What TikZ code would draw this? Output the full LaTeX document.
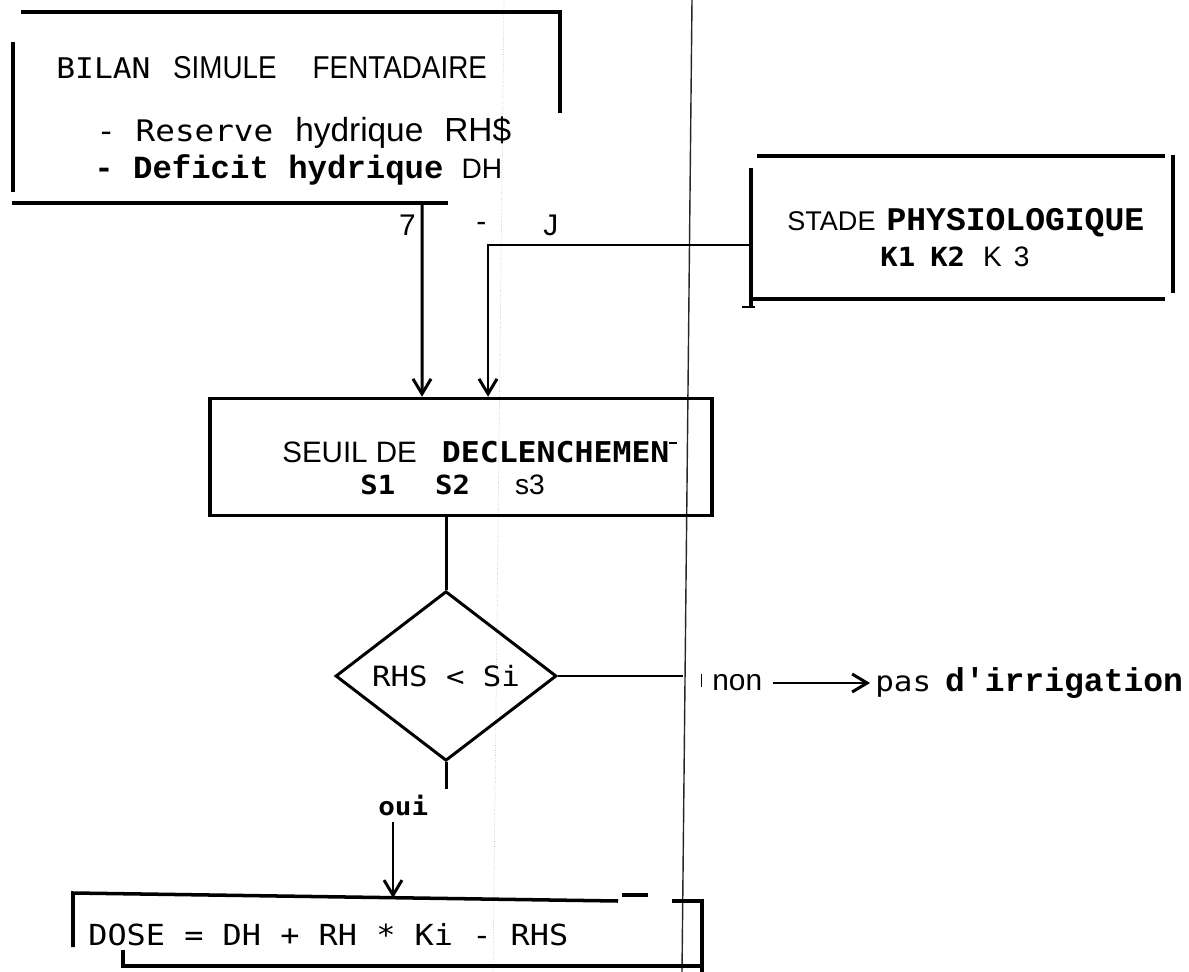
\documentclass[tikz,border=0pt]{standalone}
\usepackage{fontspec}
\setmainfont{Liberation Sans}
\newfontfamily\dotf[FakeStretch=1.1]{DejaVu Sans Mono}
\newfontfamily\narrowf[FakeStretch=0.88]{Liberation Sans}
\newfontfamily\typef{Liberation Mono}
\newcommand\fsz[1]{\fontsize{#1}{#1}\selectfont}
\usetikzlibrary{shapes.geometric,arrows.meta}

\begin{document}
\begin{tikzpicture}[x=0.02cm, y=-0.02cm, >={Straight Barb[length=3mm,width=3.6mm]},
  frame/.style={line width=2pt},
  link/.style={line width=1.7pt},
  txt/.style={inner sep=0pt, anchor=west},
  test/.style={diamond, draw, line width=1.7pt, inner sep=0pt, minimum width=4.42cm, minimum height=2.96cm, font=\dotf\fsz{15.9}}]
  \useasboundingbox (0,0) rectangle (1189,972);
  % fold of the scanned page
  \draw[line width=0.8pt, black!85] (692,0) -- (682,972);
  \draw[densely dotted, black!25] (504,0) -- (493,972);

  % bilan simule
  \draw[frame] (21,12) -- (560,12) -- (560,113);
  \draw[frame] (13,42) -- (13,192);
  \draw[frame] (12,203) -- (448,203);
  \node[txt] (bilan) at (56,68) {{\dotf\fsz{16.2}BILAN}\hspace{0.45cm}{\narrowf\fsz{18}SIMULE\hspace{0.72cm}FENTADAIRE}};
  \node[txt] (reserve) at (96,133) {{\dotf\fsz{16.9}- Reserve}\hspace{0.44cm}{\fsz{19}hydrique\hspace{0.42cm}RH\$}};
  \node[txt] (deficit) at (94,170) {{\typef\bfseries\fsz{18.4}- Deficit hydrique}\hspace{0.36cm}{\fsz{16}DH}};
  \node[txt, anchor=east, font=\fsz{17}] (sept) at (416,225) {7};
  \node[txt, font=\fsz{17}] (tiret) at (476,227) {-};
  \node[txt, font=\fsz{17}] (jlab) at (543,225) {J};

  % stade physiologique
  \draw[frame] (757,156) -- (1165,156);
  \draw[frame] (1173,155) -- (1173,293);
  \draw[frame] (750,299) -- (1165,299);
  \draw[frame] (751,168) -- (751,307);
  \draw[link] (742,307) -- (755,307);
  \node[txt] (stade) at (787,223) {{\fsz{15.4}STADE}\hspace{0.22cm}{\typef\bfseries\fsz{18.8}PHYSIOLOGIQUE}};
  \node[txt] (kstade) at (880,257) {{\dotf\bfseries\fsz{15}K1\hspace{0.3cm}K2}\hspace{0.36cm}{\fsz{16}K\hspace{0.24cm}3}};
  \coordinate (stW) at (751,245);

  % seuil de declenchement
  \node[draw, frame, minimum width=10.04cm, minimum height=2.34cm] (seuil) at (461,457) {};
  \node[txt] (seuilA) at (282,452) {{\fsz{16.8}SEUIL DE}\hspace{0.5cm}{\dotf\bfseries\fsz{16.3}DECLENCHEMEN}\rule[0.36cm]{0.16cm}{0.05cm}};
  \node[txt] (seuilB) at (360,485) {{\dotf\bfseries\fsz{15}S1\hspace{0.8cm}S2}\hspace{0.9cm}{\fsz{16}s3}};

  \draw[link,->] (422,203) -- ([xshift=-0.78cm]seuil.north);
  \draw[link,->] (stW) -| ([xshift=0.54cm]seuil.north);

  % test
  \node[test] (cond) at (446,676) {RHS < Si};
  \draw[link] (cond.north |- seuil.south) -- (cond.north);
  \draw[link] (cond.south) -- ++(0,27);

  \draw[link] (cond.east) -- (683,676);
  \draw[line width=0.4pt] (701,674) -- (701,687);
  \node[txt, font=\fsz{17}] (non) at (712,683) {non};
  \node[txt] (pas) at (875,683) {{\dotf\fsz{16}pas}\hspace{0.28cm}{\typef\bfseries\fsz{18.8}d'irrigation}};
  \draw[link,->] ([xshift=0.2cm]non.east) -- ([xshift=-0.1cm]pas.west);

  % dose
  \node[txt, font=\dotf\bfseries\fsz{14.3}] (oui) at (378,805) {oui};
  \coordinate (dtop) at (393,898);
  \draw[link,->] (393,822) -- (dtop);
  \draw[frame] (73,947) -- (73,893) -- (618,901);
  \draw[frame] (622,895) -- (648,895);
  \draw[frame] (672,901) -- (702,901) -- (702,972);
  \draw[frame] (123,950) -- (123,966) -- (702,966);
  \node[txt, font=\dotf\fsz{16.5}] (dose) at (88,935) {DOSE = DH + RH * Ki - RHS};
\end{tikzpicture}
\end{document}
